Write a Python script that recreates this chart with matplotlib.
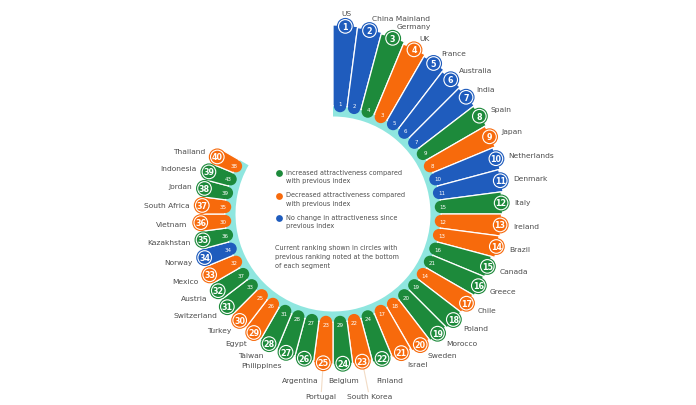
import numpy as np
import matplotlib
matplotlib.use('Agg')
import matplotlib.pyplot as plt

# ---------------- data ----------------
countries = ['US', 'China Mainland', 'Germany', 'UK', 'France', 'Australia', 'India',
             'Spain', 'Japan', 'Netherlands', 'Denmark', 'Italy', 'Ireland', 'Brazil',
             'Canada', 'Greece', 'Chile', 'Poland', 'Morocco', 'Sweden', 'Israel',
             'Finland', 'South Korea', 'Belgium', 'Portugal', 'Argentina', 'Philippines',
             'Taiwan', 'Egypt', 'Turkey', 'Switzerland', 'Austria', 'Mexico', 'Norway',
             'Kazakhstan', 'Vietnam', 'South Africa', 'Jordan', 'Indonesia', 'Thailand']
current_rank = list(range(1, 41))
previous_rank = [1, 2, 4, 3, 5, 6, 7, 9, 8, 10, 11, 15, 12, 13, 16, 21, 14, 19, 20, 18,
                 17, 24, 22, 29, 23, 27, 28, 31, 26, 25, 33, 37, 32, 34, 36, 30, 35, 39, 43, 38]
scores = [87, 86, 84.5, 82, 80, 77.5, 76, 75, 73.5, 71, 69.5, 67.5, 66.5, 65.5, 62, 61,
          59.5, 59, 57.5, 56, 53.5, 51.5, 49, 48.5, 48, 46, 45, 43.5, 41.5, 40.5, 39.5,
          37, 36.5, 34.5, 31.5, 31.5, 30, 30, 30, 28]

legend_items = [('Increased attractiveness compared\nwith previous index', 'up'),
                ('Decreased attractiveness compared\nwith previous index', 'down'),
                ('No change in attractiveness since\nprevious index', 'same')]
note_text = ('Current ranking shown in circles with\n'
             'previous ranking noted at the bottom\nof each segment')

# ---------------- style ----------------
GREEN = '#1d8a3b'
ORANGE = '#f76a0c'
BLUE = '#1f5cbd'
CYAN = '#8fe6df'
TXT = '#4d4d4d'
COL = {'up': GREEN, 'down': ORANGE, 'same': BLUE}
plt.rcParams['font.family'] = ['DejaVu Sans']

W, H = 696, 406
fig = plt.figure(figsize=(W / 100, H / 100), dpi=100)
CX, CY = 333, 215          # centre in px (from top-left)
RMAX = 215
R0 = 102                   # inner radius of the bars
HW = 6.2                   # half width of rounded inner end
STEP = 7.5                 # degrees per segment
BOTTOM_RANGE = (160, 195)  # angular range of labels set on horizontal lines

ax = fig.add_axes([(CX - RMAX) / W, (H - CY - RMAX) / H, 2 * RMAX / W, 2 * RMAX / H],
                  projection='polar')
ax.set_theta_zero_location('N')
ax.set_theta_direction(-1)
ax.set_ylim(0, RMAX)
ax.axis('off')

n = len(countries)
deg = STEP * (np.arange(n) + 0.5)
theta = np.radians(deg)
status = ['up' if p > c else ('down' if p < c else 'same')
          for c, p in zip(current_rank, previous_rank)]
colors = [COL[s] for s in status]
r_end = R0 + np.array(scores)

# cyan ring
ax.bar(0, 12.5, width=np.radians(STEP * n), bottom=97.5, align='edge', color=CYAN,
       linewidth=0, zorder=1)

# segments
ax.bar(theta, r_end - (R0 + HW), width=np.radians(STEP), bottom=R0 + HW, color=colors,
       edgecolor='white', linewidth=0.9, zorder=2)
# rounded inner ends
ax.scatter(theta, np.full(n, R0 + HW), s=(2 * HW * 0.72) ** 2, c=colors, linewidths=0,
           zorder=3)
# rank circles
ax.scatter(theta, r_end - 1, s=(17 * 0.72) ** 2, c=colors, linewidths=0, zorder=4)
ax.scatter(theta, r_end - 1, s=(13.6 * 0.72) ** 2, facecolors='none', edgecolors='white',
           linewidths=0.8, zorder=5)

bottom = (deg > BOTTOM_RANGE[0]) & (deg < BOTTOM_RANGE[1])
y_line = r_end[bottom].max() + 13      # vertical distance below centre

for i in range(n):
    th = theta[i]
    ax.text(th, r_end[i] - 1, str(current_rank[i]), ha='center', va='center',
            color='white', fontsize=5.8, fontweight='bold', zorder=6)
    ax.text(th, R0 + 8.5, str(previous_rank[i]), ha='center', va='center',
            color='white', fontsize=4.0, zorder=6)
    s, c = np.sin(th), np.cos(th)
    if c > 0:
        ha = 'left' if s > 0.15 else ('right' if s < -0.15 else 'center')
    else:
        ha = 'left' if s > 0.35 else ('right' if s < -0.3 else 'center')
    r_lab = r_end[i] + 12
    if bottom[i]:
        ha = 'center'
        r_lab = y_line / (-c)
        if abs(deg[i] - 180) < 12 and current_rank[i] % 2 == 1:
            r_lab = (y_line + 16) / (-c)
            ax.plot([th, th], [r_end[i] + 7, r_lab - 5], color='#f2dcc6', lw=0.8,
                    zorder=1)
    ax.text(th, r_lab, countries[i], ha=ha, va='center', color=TXT,
            fontsize=5.4, zorder=6)

# legend / note overlay
ov = fig.add_axes([0, 0, 1, 1])
ov.set_xlim(0, W)
ov.set_ylim(H, 0)
ov.axis('off')
for k, (label, key) in enumerate(legend_items):
    y = 174 + 22.5 * k
    ov.scatter([279], [y], s=24, color=COL[key], linewidths=0)
    ov.text(286, y - 4.3, label, ha='left', va='top', color=TXT, fontsize=4.7,
            linespacing=1.55)
ov.text(275, 245.5, note_text, ha='left', va='top', color=TXT, fontsize=4.7,
        linespacing=1.55)

fig.savefig('out.png', dpi=100)
